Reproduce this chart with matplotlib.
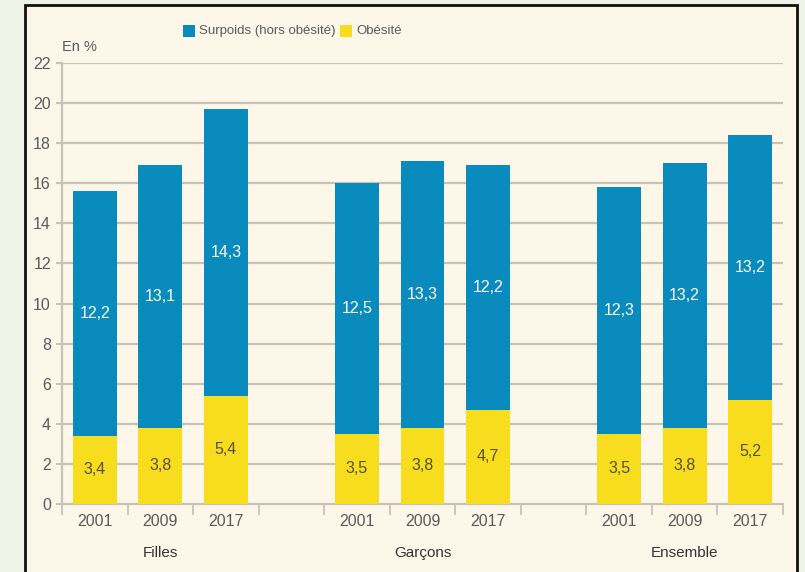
import matplotlib
matplotlib.use("Agg")
import matplotlib.pyplot as plt
from matplotlib.patches import Rectangle

groups = ["Filles", "Garçons", "Ensemble"]
years = ["2001", "2009", "2017"]
obesite = [[3.4, 3.8, 5.4], [3.5, 3.8, 4.7], [3.5, 3.8, 5.2]]
surpoids = [[12.2, 13.1, 14.3], [12.5, 13.3, 12.2], [12.3, 13.2, 13.2]]
yticks = list(range(0, 23, 2))

plt.rcParams['font.family'] = ['Liberation Sans', 'DejaVu Sans']

W, H = 805, 572
fig = plt.figure(figsize=(W / 100, H / 100), dpi=100, facecolor='#eff2e6')

# framed box
fig.patches.append(Rectangle((25 / W, -0.05), (797 - 25) / W, (572 - 5) / H + 0.05,
                             transform=fig.transFigure, facecolor='#fdf7ea',
                             edgecolor='#111111', linewidth=2, zorder=-1))

ax = fig.add_axes([62 / W, (572 - 504) / H, (783 - 62) / W, (504 - 63) / H])
ax.set_zorder(2)
ax.set_facecolor('none')

blue = '#0a8bbd'
yellow = '#f8dd1f'
grid_c = '#c9c2b7'
txt_c = '#5a5a5a'

bar_w = 0.67
centers = []
for g in range(3):
    for k in range(3):
        x = g * 4 + k + 0.5
        centers.append(x)
        o = obesite[g][k]
        s = surpoids[g][k]
        ax.bar(x, o, width=bar_w, color=yellow, zorder=3)
        ax.bar(x, s, bottom=o, width=bar_w, color=blue, zorder=3)
        ax.text(x, o / 2, f"{o:.1f}".replace('.', ','), ha='center', va='center',
                fontsize=11.5, color='#55502e', zorder=4)
        ax.text(x, o + s / 2, f"{s:.1f}".replace('.', ','), ha='center', va='center',
                fontsize=11.5, color='white', zorder=4)

ax.set_xlim(0, 11)
ax.set_ylim(0, 22)
ax.set_yticks(yticks)
ax.set_yticklabels([str(v) for v in yticks], fontsize=11.5, color=txt_c)
ax.tick_params(axis='y', length=4, width=1.5, color=grid_c, pad=4)
for v in yticks[1:]:
    ax.axhline(v, color=grid_c, linewidth=1.6, zorder=1)

ax.set_xticks(range(0, 12))
ax.set_xticklabels([])
ax.tick_params(axis='x', which='major', length=8, width=1.3, color=grid_c)
ax.set_xticks(centers, minor=True)
ax.set_xticklabels(years * 3, minor=True, fontsize=11.5, color=txt_c)
ax.tick_params(axis='x', which='minor', length=0, pad=7)

for sp in ['top', 'right']:
    ax.spines[sp].set_visible(False)
for sp in ['left', 'bottom']:
    ax.spines[sp].set_color(grid_c)
    ax.spines[sp].set_linewidth(1.6)

for g, name in enumerate(groups):
    ax.text(g * 4 + 1.5, -0.111, name, transform=ax.get_xaxis_transform(),
            ha='center', va='center', fontsize=11, color='#333333')

fig.text(62 / W, 1 - 47 / H, "En %", fontsize=10.5, color=txt_c, va='center', ha='left')

# legend
fig.patches.append(Rectangle((183 / W, 1 - 37 / H), 12 / W, 12 / H, transform=fig.transFigure,
                             facecolor=blue, edgecolor='none', zorder=3))
fig.text(199 / W, 1 - 31 / H, "Surpoids (hors obésité)", fontsize=9.5, color=txt_c,
         va='center', ha='left')
fig.patches.append(Rectangle((340 / W, 1 - 37 / H), 12 / W, 12 / H, transform=fig.transFigure,
                             facecolor=yellow, edgecolor='none', zorder=3))
fig.text(356 / W, 1 - 31 / H, "Obésité", fontsize=9.5, color=txt_c, va='center', ha='left')

fig.savefig("out.png", dpi=100, facecolor=fig.get_facecolor())
